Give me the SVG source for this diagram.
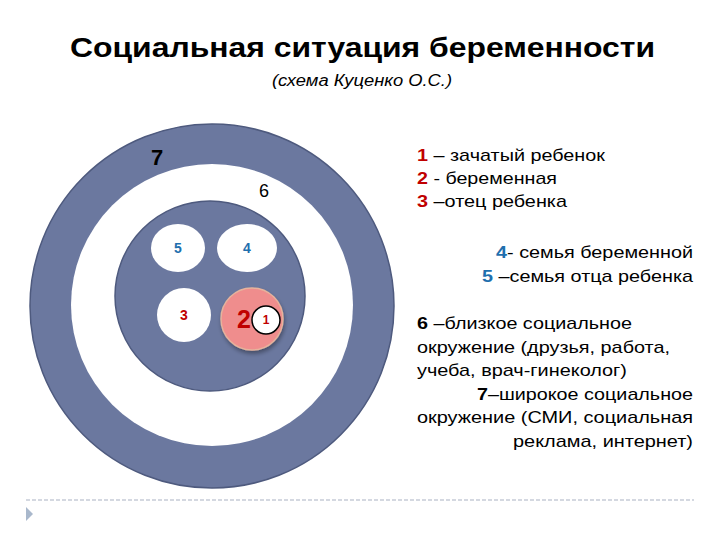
<svg xmlns="http://www.w3.org/2000/svg" width="720" height="540" viewBox="0 0 720 540">
<defs>
<style>
.t{font-family:"Liberation Sans",Arial,sans-serif;fill:#000}
.ring{fill:#6b789f;stroke:#4e5a7e;stroke-width:1.5}
.wh{fill:#fff}
.r{fill:#c00000;font-weight:bold}
.b{fill:#1f6fae;font-weight:bold}
.k{font-weight:bold}
</style>
<filter id="sh" x="-30%" y="-30%" width="160%" height="160%">
<feDropShadow dx="1" dy="3" stdDeviation="2" flood-color="#000" flood-opacity="0.35"/>
</filter>
</defs>
<rect width="720" height="540" fill="#fff"/>
<text class="t k" x="362.5" y="57" font-size="28" text-anchor="middle" textLength="585" lengthAdjust="spacingAndGlyphs">Социальная ситуация беременности</text>
<text class="t" x="362" y="86" font-size="16" font-style="italic" text-anchor="middle" textLength="180" lengthAdjust="spacingAndGlyphs">(схема Куценко О.С.)</text>

<g id="ring7">
<circle class="ring" cx="212" cy="306" r="182"/>
<text class="t k" x="157" y="165" font-size="22" text-anchor="middle">7</text>
</g>
<g id="ring6">
<circle class="wh" cx="212" cy="305" r="141"/>
<text class="t" x="264" y="197" font-size="18" text-anchor="middle">6</text>
</g>
<g id="inner">
<circle class="ring" cx="210" cy="296" r="95"/>
</g>
<g id="n5">
<ellipse class="wh" cx="178" cy="248" rx="27" ry="24"/>
<text class="t b" x="178" y="253" font-size="14" text-anchor="middle">5</text>
</g>
<g id="n4">
<ellipse class="wh" cx="247" cy="248" rx="30" ry="24"/>
<text class="t b" x="247" y="253" font-size="14" text-anchor="middle">4</text>
</g>
<g id="n3">
<circle class="wh" cx="184" cy="315" r="27"/>
<text class="t r" x="184" y="320" font-size="14" text-anchor="middle">3</text>
</g>
<g id="n2">
<circle cx="252" cy="319" r="31" fill="#ef8d8d" stroke="#e6b39c" stroke-width="1.5" filter="url(#sh)"/>
<text class="t r" x="244" y="328" font-size="25" text-anchor="middle">2</text>
</g>
<g id="n1">
<circle cx="266" cy="320" r="14" fill="#fff" stroke="#000" stroke-width="1.5"/>
<text class="t r" x="266" y="324" font-size="12" text-anchor="middle">1</text>
</g>
<g id="connectors"></g>

<g id="legend" font-size="17">
<text class="t" x="417" y="161" textLength="188" lengthAdjust="spacingAndGlyphs"><tspan class="r">1</tspan> – зачатый ребенок</text>
<text class="t" x="417" y="184" textLength="140" lengthAdjust="spacingAndGlyphs"><tspan class="r">2</tspan> - беременная</text>
<text class="t" x="417" y="207" textLength="150" lengthAdjust="spacingAndGlyphs"><tspan class="r">3</tspan> –отец ребенка</text>
<text class="t" x="693" y="258" text-anchor="end" textLength="197" lengthAdjust="spacingAndGlyphs"><tspan class="b">4</tspan>- семья беременной</text>
<text class="t" x="693" y="282" text-anchor="end" textLength="211" lengthAdjust="spacingAndGlyphs"><tspan class="b">5</tspan> –семья отца ребенка</text>
<text class="t" x="417" y="329" textLength="215" lengthAdjust="spacingAndGlyphs"><tspan class="k">6</tspan> –близкое социальное</text>
<text class="t" x="417" y="353" textLength="253" lengthAdjust="spacingAndGlyphs">окружение (друзья, работа,</text>
<text class="t" x="417" y="376" textLength="210" lengthAdjust="spacingAndGlyphs">учеба, врач-гинеколог)</text>
<text class="t" x="693" y="400" text-anchor="end" textLength="216" lengthAdjust="spacingAndGlyphs"><tspan class="k">7</tspan>–широкое социальное</text>
<text class="t" x="693" y="423" text-anchor="end" textLength="276" lengthAdjust="spacingAndGlyphs">окружение (СМИ, социальная</text>
<text class="t" x="693" y="447" text-anchor="end" textLength="180" lengthAdjust="spacingAndGlyphs">реклама, интернет)</text>
</g>

<line x1="26" y1="500" x2="694" y2="500" stroke="#a9b1c2" stroke-width="1" stroke-dasharray="4,2"/>
<polygon points="26,507 33,514 26,521" fill="#a9b8cc"/>
</svg>
